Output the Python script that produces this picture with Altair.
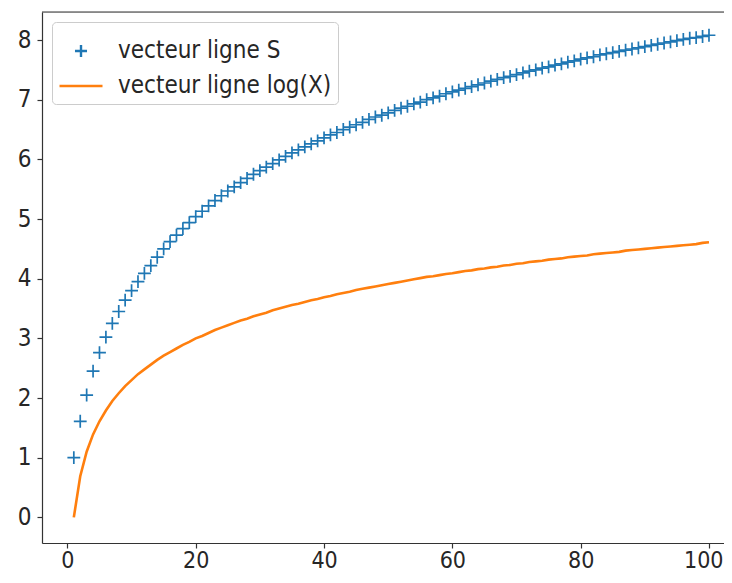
import altair as alt
import pandas as pd

x_vals = list(range(1, 101))

s_vals = [1.00, 1.61, 2.05, 2.45, 2.76, 3.02, 3.25, 3.45, 3.64, 3.80,
          3.95, 4.09, 4.22, 4.36, 4.50, 4.62, 4.73, 4.84, 4.94, 5.04,
          5.13, 5.22, 5.31, 5.39, 5.47, 5.54, 5.61, 5.68, 5.75, 5.81,
          5.87, 5.93, 5.99, 6.05, 6.11, 6.16, 6.21, 6.26, 6.31, 6.36,
          6.41, 6.45, 6.50, 6.54, 6.58, 6.62, 6.67, 6.71, 6.74, 6.78,
          6.82, 6.86, 6.89, 6.93, 6.96, 7.00, 7.03, 7.06, 7.10, 7.13,
          7.16, 7.19, 7.22, 7.25, 7.28, 7.31, 7.34, 7.37, 7.39, 7.42,
          7.45, 7.48, 7.50, 7.53, 7.55, 7.58, 7.60, 7.63, 7.65, 7.68,
          7.70, 7.72, 7.75, 7.77, 7.79, 7.81, 7.83, 7.85, 7.87, 7.89,
          7.91, 7.93, 7.95, 7.97, 7.99, 8.01, 8.03, 8.04, 8.06, 8.08]

log_vals = [0.00, 0.69, 1.10, 1.39, 1.61, 1.79, 1.95, 2.08, 2.20, 2.30,
            2.40, 2.48, 2.56, 2.64, 2.71, 2.77, 2.83, 2.89, 2.94, 3.00,
            3.04, 3.09, 3.14, 3.18, 3.22, 3.26, 3.30, 3.33, 3.37, 3.40,
            3.43, 3.47, 3.50, 3.53, 3.56, 3.58, 3.61, 3.64, 3.66, 3.69,
            3.71, 3.74, 3.76, 3.78, 3.81, 3.83, 3.85, 3.87, 3.89, 3.91,
            3.93, 3.95, 3.97, 3.99, 4.01, 4.03, 4.04, 4.06, 4.08, 4.09,
            4.11, 4.13, 4.14, 4.16, 4.17, 4.19, 4.20, 4.22, 4.23, 4.25,
            4.26, 4.28, 4.29, 4.30, 4.32, 4.33, 4.34, 4.36, 4.37, 4.38,
            4.39, 4.41, 4.42, 4.43, 4.44, 4.45, 4.47, 4.48, 4.49, 4.50,
            4.51, 4.52, 4.53, 4.54, 4.55, 4.56, 4.57, 4.58, 4.60, 4.61]

series_names = ["vecteur ligne S", "vecteur ligne log(X)"]
x_ticks = [0, 20, 40, 60, 80, 100]
y_ticks = [0, 1, 2, 3, 4, 5, 6, 7, 8]

df_s = pd.DataFrame({"x": x_vals, "y": s_vals, "serie": series_names[0]})
df_l = pd.DataFrame({"x": x_vals, "y": log_vals, "serie": series_names[1]})

W, H = 682, 531
FONT = "DejaVu Sans Condensed, DejaVu Sans"
FS = 24
PLUS = "M-1,0M1,0M-0.28,0H0.28M0,-0.28V0.28"

color_scale = alt.Scale(domain=series_names, range=["#1f77b4", "#ff7f0e"])
shape_scale = alt.Scale(domain=series_names, range=[PLUS, "stroke"])

axis_common = dict(title=None, grid=False, domainColor="#333333", domainWidth=1.2,
                   tickColor="#333333", tickSize=5, tickWidth=1.2,
                   labelFont=FONT, labelColor="#262626")

xs = alt.X("x:Q", scale=alt.Scale(domain=[-3.96, 102.34], nice=False, zero=False),
           axis=alt.Axis(values=x_ticks, format="d", labelPadding=1,
                         labelFontSize=FS - 1,
                         labelAlign=alt.expr("datum.value === 100 ? 'right' : 'center'"),
                         labelOffset=alt.expr("datum.value === 100 ? 14 : 0"),
                         **axis_common))
ys = alt.Y("y:Q", scale=alt.Scale(domain=[-0.43, 8.47], nice=False, zero=False),
           axis=alt.Axis(values=y_ticks, format="d", labelPadding=6,
                         labelFontSize=FS, **axis_common))

legend = alt.Legend(title=None, orient="top-left", offset=10, padding=6,
                    fillColor="rgba(255,255,255,0.85)", strokeColor="#cccccc",
                    cornerRadius=4, labelFont=FONT, labelFontSize=FS,
                    labelColor="#262626", labelOffset=14, labelLimit=500,
                    symbolSize=1849, symbolStrokeWidth=2.4, rowPadding=-18)

pts = alt.Chart(df_s).mark_point(filled=False, size=2100, strokeWidth=1.7, opacity=1).encode(
    x=xs, y=ys,
    color=alt.Color("serie:N", scale=color_scale, legend=legend),
    shape=alt.Shape("serie:N", scale=shape_scale, legend=legend),
)

line = alt.Chart(df_l).mark_line(strokeWidth=2.6).encode(
    x=xs, y=ys,
    color=alt.Color("serie:N", scale=color_scale, legend=legend),
)

top = alt.Chart(pd.DataFrame({"a": [0]})).mark_rule(color="#333333", strokeWidth=1.2).encode(
    x=alt.value(0), x2=alt.value(W), y=alt.value(0)
)

chart = alt.layer(line, pts, top).properties(
    width=W, height=H,
    autosize=alt.AutoSizeParams(type="none"),
    padding={"left": 34, "top": 4, "right": 0, "bottom": 32},
).configure_view(stroke=None).configure(background="white")

chart.save("out.html", embed_options={"renderer": "svg", "actions": False})
